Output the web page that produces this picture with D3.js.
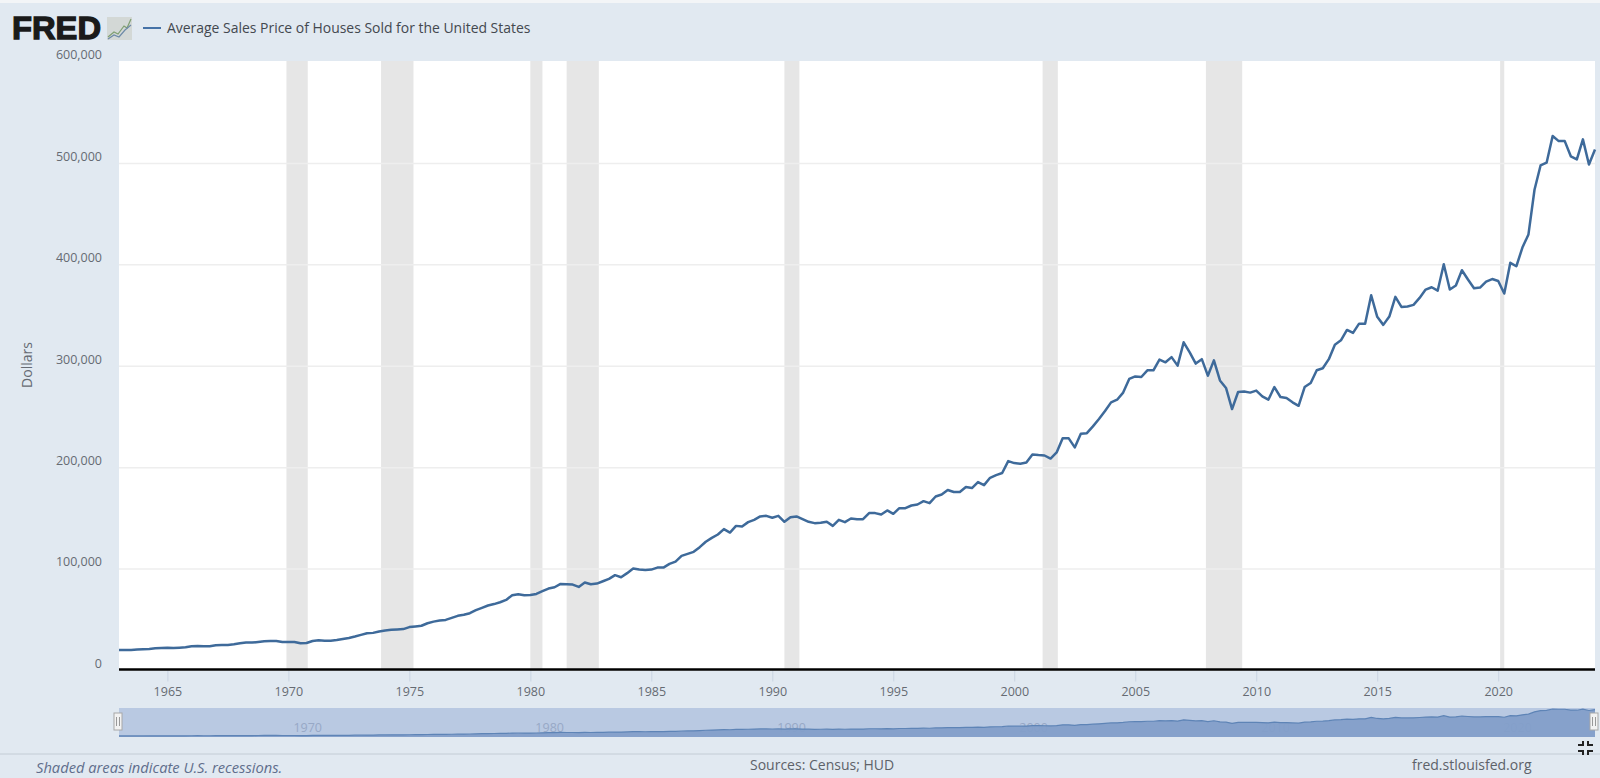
<!DOCTYPE html>
<html>
<head>
<meta charset="utf-8">
<title>Average Sales Price of Houses Sold for the United States</title>
<script src="https://cdn.jsdelivr.net/npm/d3@7"></script>
<style>
  html, body { margin: 0; padding: 0; background: #e1e9f1; overflow: hidden; }
  svg { display: block; }
  text { font-family: "Open Sans", sans-serif; }
</style>
</head>
<body>
<div id="chart"></div>
<script>
var seriesName = "Average Sales Price of Houses Sold for the United States";
var firstYear = 1963; // first quarter of the series, one value per quarter after that

var avgPrice = [
  20200,20200,20200,20600,20900,21200,21900,22200,22500,22200,22500,22900,23900,24200,23900,23900,
  24900,25200,25200,25800,26800,27500,27500,28100,28800,29100,29100,28100,28100,28100,26800,27100,
  29100,29800,29400,29400,30100,31100,32100,33500,35100,36800,37100,38500,39500,40100,40500,40800,
  42800,43500,44100,46600,48200,49200,49900,51900,53900,54900,56500,59500,61800,64100,65500,
  67300,69600,74200,75200,74200,74500,75500,78200,80800,82100,85400,85000,84700,82400,86700,85000,
  85700,88000,90300,94000,92000,96000,100500,99500,99200,99500,101500,101500,105100,107400,113000,115000,
  117000,121600,126900,130800,134100,139400,136000,142600,142000,146300,148600,151900,152500,150600,152500,146600,
  151200,151900,149200,146600,145300,145600,146600,142600,148600,146300,149900,149200,149200,155200,155200,153800,
  157800,154500,160100,160100,162700,163700,167000,165000,171600,173600,178000,176000,176000,180900,179900,185800,
  182800,190000,192700,194700,206500,204500,203900,205000,213000,212400,212000,209000,215000,228900,228900,220000,
  233500,234000,240700,248000,255900,264400,267000,274000,287500,290000,289400,296000,296000,306500,303900,309000,
  300600,323600,313700,302600,
  307000,290700,305800,286000,278600,257800,274600,275000,274000,276000,270300,267000,279500,269700,268700,264400,
  261000,279500,283500,296000,298000,307000,321300,325600,335800,332900,342000,342000,370000,348700,340800,349000,
  368400,358500,359000,360500,367400,375600,377900,374600,400600,375600,379600,394700,385500,377000,377600,383500,
  386000,384000,371700,402000,398600,417000,430000,474000,498000,500700,527000,522000,522000,507000,504000,523700,
  499000,513800
];

// NBER recessions, decimal years
var recessionStart = [1969.92, 1973.83, 1980.0, 1981.5, 1990.5, 2001.17, 2007.92, 2020.08];
var recessionEnd   = [1970.8, 1975.17, 1980.5, 1982.83, 1991.12, 2001.8, 2009.42, 2020.25];

var yTicks = [0, 100000, 200000, 300000, 400000, 500000, 600000];
var xTicks = [1965, 1970, 1975, 1980, 1985, 1990, 1995, 2000, 2005, 2010, 2015, 2020];
var navTicks = [1970, 1980, 1990, 2000, 2010, 2020];

var width = 1600, height = 778;
var plot = { left: 119, right: 1595, top: 61, zero: 670.5, max: 62 };
var nav = { top: 708, bottom: 737 };

var colors = {
  bg: "#e1e9f1", line: "#3e6a9a", grid: "#eeeeee", recession: "#e6e6e6",
  text: "#666b73", tick: "#c9d4e2", navMask: "#b9c9e2", navArea: "#829ec9", navLine: "#5e84b6"
};

var points = avgPrice.map(function (d, i) { return { year: firstYear + i / 4, value: d }; });

var x = d3.scaleLinear().domain([firstYear, 2024]).range([plot.left, plot.right]);
var y = d3.scaleLinear().domain([0, 600000]).range([plot.zero, plot.max]);
var yNav = d3.scaleLinear().domain([0, d3.max(avgPrice)]).range([nav.bottom, nav.top + 1]);

var svg = d3.select("#chart").append("svg").attr("width", width).attr("height", height);

svg.append("rect").attr("width", width).attr("height", height).attr("fill", colors.bg);
svg.append("rect").attr("width", width).attr("height", 3).attr("fill", "#f3f5f7");

// plot area
svg.append("rect")
  .attr("x", plot.left).attr("y", plot.top)
  .attr("width", plot.right - plot.left).attr("height", plot.zero - plot.top)
  .attr("fill", "#ffffff");

// recessions
svg.append("g").selectAll("rect")
  .data(recessionStart)
  .enter().append("rect")
  .attr("x", function (d) { return x(d); })
  .attr("y", plot.top)
  .attr("width", function (d, i) { return x(recessionEnd[i]) - x(d); })
  .attr("height", plot.zero - plot.top)
  .attr("fill", colors.recession);

// y axis, labels sit just above their gridlines
var yAxis = d3.axisLeft(y).tickValues(yTicks).tickSize(0).tickPadding(17).tickFormat(d3.format(","));
var yG = svg.append("g").attr("transform", "translate(" + plot.left + ",0)").call(yAxis);
yG.select(".domain").remove();
yG.selectAll("text")
  .attr("dy", "-0.26em")
  .attr("font-size", 12.5)
  .attr("fill", colors.text)
  .style("font-family", '"Open Sans", sans-serif');

svg.append("g").selectAll("line")
  .data(yTicks.filter(function (d) { return d > 0 && d < 600000; }))
  .enter().append("line")
  .attr("x1", plot.left).attr("x2", plot.right)
  .attr("y1", function (d) { return y(d); })
  .attr("y2", function (d) { return y(d); })
  .attr("stroke", colors.grid)
  .attr("stroke-width", 1.5);

svg.append("text")
  .attr("transform", "translate(32,365) rotate(-90)")
  .attr("text-anchor", "middle")
  .attr("font-size", 14)
  .attr("fill", colors.text)
  .text("Dollars");

// x axis
var xAxis = d3.axisBottom(x).tickValues(xTicks).tickSize(11).tickPadding(6).tickFormat(d3.format("d"));
var xG = svg.append("g").attr("transform", "translate(0," + plot.zero + ")").call(xAxis);
xG.select(".domain").remove();
xG.selectAll("line").attr("stroke", colors.tick);
xG.selectAll("text")
  .attr("font-size", 12.5)
  .attr("fill", colors.text)
  .style("font-family", '"Open Sans", sans-serif');

// the series
var line = d3.line()
  .x(function (d) { return x(d.year); })
  .y(function (d) { return y(d.value); });

svg.append("path")
  .datum(points)
  .attr("d", line)
  .attr("fill", "none")
  .attr("stroke", colors.line)
  .attr("stroke-width", 2.5)
  .attr("stroke-linejoin", "round");

// baseline
svg.append("line")
  .attr("x1", plot.left).attr("x2", plot.right)
  .attr("y1", plot.zero - 1).attr("y2", plot.zero - 1)
  .attr("stroke", "#000000")
  .attr("stroke-width", 2.5);

// navigator
svg.append("rect")
  .attr("x", plot.left).attr("y", nav.top)
  .attr("width", plot.right - plot.left).attr("height", nav.bottom - nav.top)
  .attr("fill", colors.navMask);

svg.append("g").selectAll("text")
  .data(navTicks)
  .enter().append("text")
  .attr("x", function (d) { return x(d) + 5; })
  .attr("y", 732)
  .attr("font-size", 12.5)
  .attr("fill", "#97a8c6")
  .text(function (d) { return d; });

var navArea = d3.area()
  .x(function (d) { return x(d.year); })
  .y0(nav.bottom)
  .y1(function (d) { return yNav(d.value); });

svg.append("path")
  .datum(points)
  .attr("d", navArea)
  .attr("fill", colors.navArea)
  .attr("fill-opacity", 0.93);

svg.append("path")
  .datum(points)
  .attr("d", d3.line()
    .x(function (d) { return x(d.year); })
    .y(function (d) { return yNav(d.value); }))
  .attr("fill", "none")
  .attr("stroke", colors.navLine)
  .attr("stroke-width", 1.2);

// navigator handles
[plot.left - 1, plot.right - 1].forEach(function (hx) {
  var h = svg.append("g").attr("transform", "translate(" + hx + ",713)");
  h.append("rect").attr("x", -4).attr("width", 8).attr("height", 17)
    .attr("fill", "#f2f2f2").attr("stroke", "#a8a8a8");
  h.append("line").attr("x1", -1.5).attr("x2", -1.5).attr("y1", 4).attr("y2", 13).attr("stroke", "#999999");
  h.append("line").attr("x1", 1.5).attr("x2", 1.5).attr("y1", 4).attr("y2", 13).attr("stroke", "#999999");
});

// legend
svg.append("line")
  .attr("x1", 143).attr("x2", 161).attr("y1", 28).attr("y2", 28)
  .attr("stroke", "#4572a7").attr("stroke-width", 2);

svg.append("text")
  .attr("x", 167).attr("y", 33)
  .attr("font-size", 13.95)
  .attr("fill", "#43484f")
  .text(seriesName);

// logo
svg.append("text")
  .attr("x", 12).attr("y", 39)
  .attr("textLength", 89)
  .attr("lengthAdjust", "spacingAndGlyphs")
  .attr("fill", "#1a1a1a")
  .attr("stroke", "#1a1a1a")
  .attr("stroke-width", 1.3)
  .style("font-family", '"Liberation Sans", sans-serif')
  .style("font-weight", 700)
  .style("font-size", "32px")
  .text("FRED");

var logoIcon = svg.append("g").attr("transform", "translate(107,17)");
logoIcon.append("rect").attr("width", 25).attr("height", 23).attr("fill", "#d3d8d6");
logoIcon.append("path").attr("d", "M1,20 L7,15 L11,17 L17,9 L20,11 L24,2")
  .attr("fill", "none").attr("stroke", "#7f9f72").attr("stroke-width", 1.2);
logoIcon.append("path").attr("d", "M1,22 L7,18 L12,20 L18,13 L24,8")
  .attr("fill", "none").attr("stroke", "#6d8aa8").attr("stroke-width", 1.2);

// footer
svg.append("line")
  .attr("x1", 0).attr("x2", width).attr("y1", 754).attr("y2", 754)
  .attr("stroke", "#c3ccd5");

svg.append("text")
  .attr("x", 36).attr("y", 773)
  .attr("font-size", 14.7)
  .attr("font-style", "italic")
  .attr("fill", "#5f6e8c")
  .text("Shaded areas indicate U.S. recessions.");

svg.append("text")
  .attr("x", 750).attr("y", 770)
  .attr("font-size", 14)
  .attr("fill", "#5d6269")
  .text("Sources: Census; HUD");

svg.append("text")
  .attr("x", 1412).attr("y", 770)
  .attr("font-size", 14)
  .attr("fill", "#5d6269")
  .text("fred.stlouisfed.org");

// fullscreen icon
var corners = [[1578, 741, 1], [1593, 741, -1], [1578, 755, 1], [1593, 755, -1]];
svg.append("g").selectAll("path")
  .data(corners)
  .enter().append("path")
  .attr("d", function (c, i) {
    var vy = i < 2 ? 1 : -1;
    return "M" + c[0] + "," + (c[1] + 4 * vy) + "h" + (5 * c[2]) + "v" + (-4 * vy);
  })
  .attr("fill", "none")
  .attr("stroke", "#222222")
  .attr("stroke-width", 2);
</script>
</body>
</html>
